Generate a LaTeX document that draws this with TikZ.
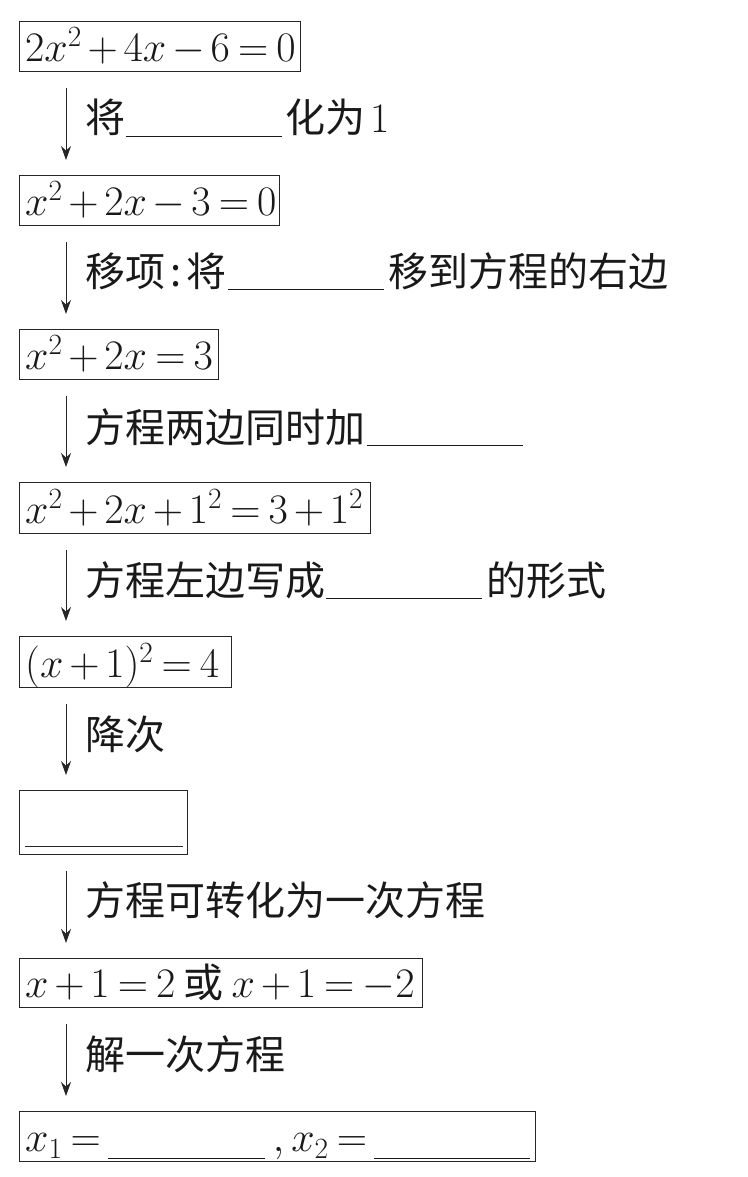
\RequirePackage{fix-cm}
\documentclass[tikz,border=0pt]{standalone}
\usepackage{fontspec}
\newfontfamily\cjk{Noto Sans CJK SC}
\usetikzlibrary{arrows.meta}
\newcommand\blk[2][4pt]{\rule[-#1]{#2}{0.9pt}}
\begin{document}
\begin{tikzpicture}[x=1pt,y=-1pt,
  box/.style={draw=black!85, line width=0.9pt, inner sep=0pt, anchor=north west},
  mth/.style={anchor=base west, inner sep=0pt, text=black!90,
    font={\fontsize{42}{50}\selectfont\medmuskip=2.5mu\thickmuskip=3.5mu}},
  lab/.style={anchor=base west, inner sep=0pt, text=black!90,
    font={\fontsize{40}{48}\selectfont\cjk}},
  arr/.style={draw=black!85, line width=0.9pt, -{Stealth[length=14pt,width=10pt]}}]
\useasboundingbox (0,0) rectangle (747,1177);
% boxes
\node[box, minimum width=281pt, minimum height=50pt] (b1) at (19,21) {};
\node[box, minimum width=260pt, minimum height=50pt] (b2) at (19,175) {};
\node[box, minimum width=199pt, minimum height=50pt] (b3) at (19,329) {};
\node[box, minimum width=351pt, minimum height=51pt] (b4) at (19,482) {};
\node[box, minimum width=212pt, minimum height=51pt] (b5) at (19,636) {};
\node[box, minimum width=168pt, minimum height=64pt] (b6) at (19,790) {};
\node[box, minimum width=403pt, minimum height=49pt] (b7) at (19,958) {};
\node[box, minimum width=516pt, minimum height=50pt] (b8) at (19,1111) {};
% box texts
\node[mth] (t1) at ([shift={(6pt,10pt)}]b1.south west) {$2x^2+4x-6=0$};
\node[mth] (t2) at ([shift={(6pt,10pt)}]b2.south west) {$x^2+2x-3=0$};
\node[mth] (t3) at ([shift={(6pt,10pt)}]b3.south west) {$x^2+2x=3$};
\node[mth] (t4) at ([shift={(6pt,10pt)}]b4.south west) {$x^2+2x+1^2=3+1^2$};
\node[mth] (t5) at ([shift={(6pt,10pt)}]b5.south west) {$(x+1)^2=4$};
\node[mth] (t7) at ([shift={(6pt,10pt)}]b7.south west) {$x+1=2$\hspace{8pt}{\fontsize{40}{48}\selectfont\cjk 或}\hspace{8pt}$x+1=-2$};
\node[mth] (t8) at ([shift={(6pt,10pt)}]b8.south west) {$x_1=$\hspace{7pt}\blk[7pt]{157pt}\hspace{8pt}$,x_2=$\hspace{7pt}\blk[7pt]{156pt}};
\draw[line width=0.9pt, black!85] ([shift={(6pt,8pt)}]b6.south west) -- ([shift={(-5pt,8pt)}]b6.south east);
% arrows
\draw[arr] ([shift={(47pt,-16pt)}]b1.south west) -- ([shift={(47pt,15pt)}]b2.north west);
\draw[arr] ([shift={(47pt,-16pt)}]b2.south west) -- ([shift={(47pt,15pt)}]b3.north west);
\draw[arr] ([shift={(47pt,-16pt)}]b3.south west) -- ([shift={(47pt,15pt)}]b4.north west);
\draw[arr] ([shift={(47pt,-16pt)}]b4.south west) -- ([shift={(47pt,15pt)}]b5.north west);
\draw[arr] ([shift={(47pt,-16pt)}]b5.south west) -- ([shift={(47pt,15pt)}]b6.north west);
\draw[arr] ([shift={(47pt,-16pt)}]b6.south west) -- ([shift={(47pt,15pt)}]b7.north west);
\draw[arr] ([shift={(47pt,-16pt)}]b7.south west) -- ([shift={(47pt,15pt)}]b8.north west);
% labels
\node[lab] (l1) at (85,133) {将\hspace{1pt}\blk{156pt}\hspace{3pt}化为\hspace{5pt}{\rmfamily\fontsize{42}{50}\selectfont 1}};
\node[lab] (l2) at (85,286) {移项\makebox[21pt]{:}将\hspace{2pt}\blk{156pt}\hspace{4pt}移到方程的右边};
\node[lab] (l3) at (85,442) {方程两边同时加\hspace{2pt}\blk{156pt}};
\node[lab] (l4) at (85,595) {方程左边写成\hspace{1pt}\blk{156pt}\hspace{4pt}的形式};
\node[lab] (l5) at (85,749) {降次};
\node[lab] (l6) at (85,915) {方程可转化为一次方程};
\node[lab] (l7) at (85,1069) {解一次方程};
\end{tikzpicture}
\end{document}
